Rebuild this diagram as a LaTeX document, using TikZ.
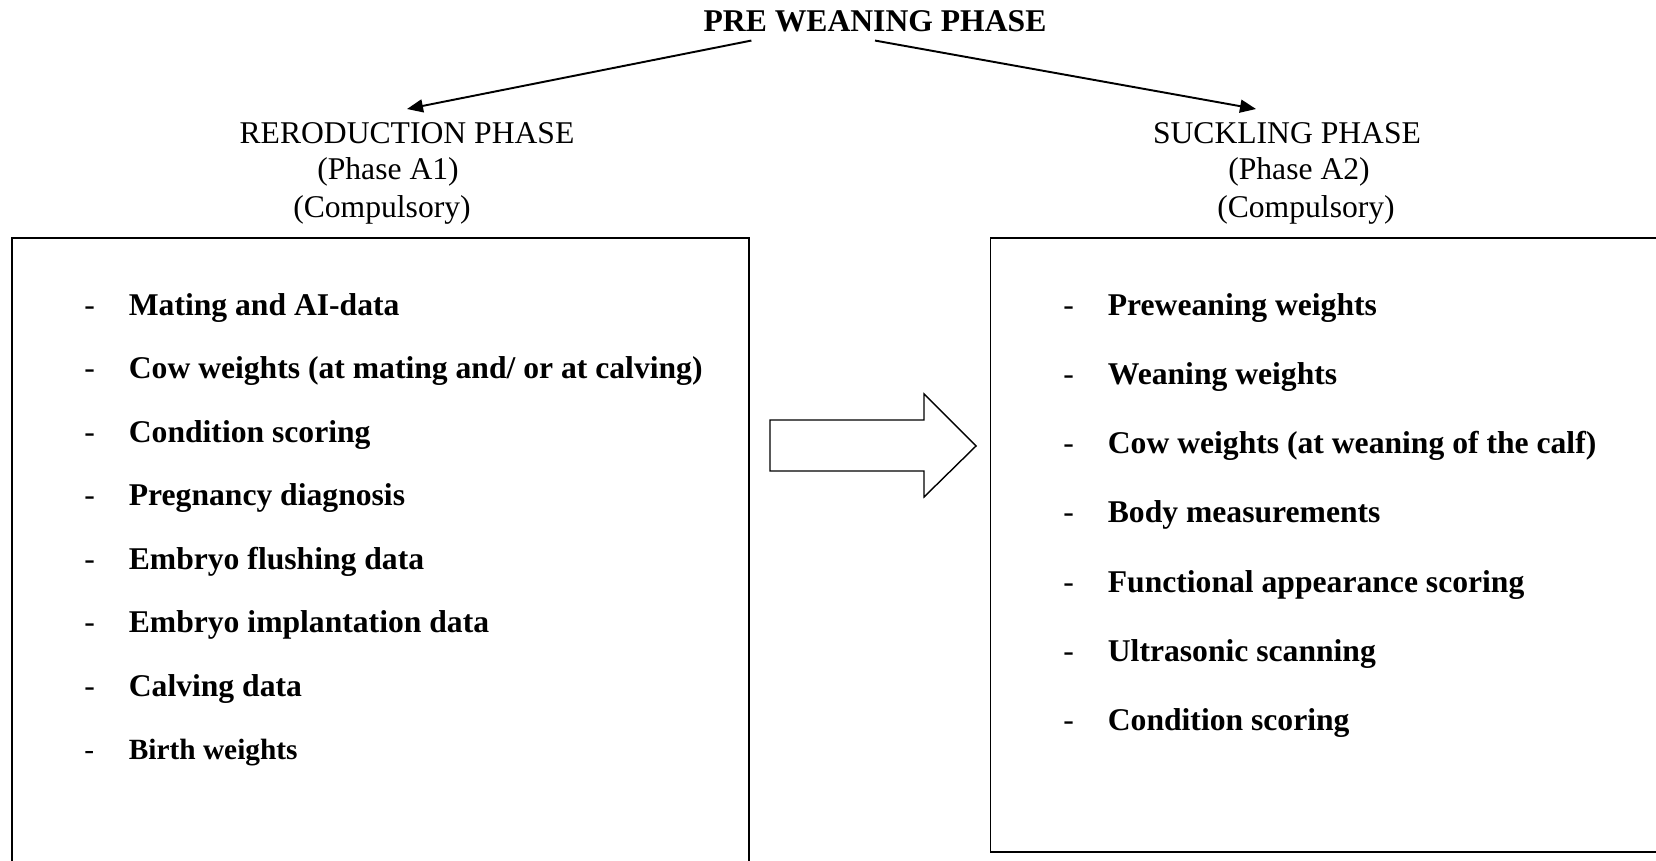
\documentclass[tikz,border=0pt]{standalone}
\usepackage{fontspec}
\setmainfont{Liberation Serif}
\usetikzlibrary{arrows.meta,positioning,calc}

\tikzset{
	heading/.style={font=\fontsize{18}{21}\selectfont\bfseries, inner sep=0pt},
	phase/.style={font=\fontsize{18}{21}\selectfont, inner sep=0pt},
	entry/.style={font=\fontsize{18}{21}\selectfont, inner sep=0pt, anchor=west, text height=0.45cm, text depth=0.13cm},
	panel/.style={draw, line width=1.1pt, inner sep=0pt},
	branch/.style={-{Triangle[length=0.32cm,width=0.26cm]}, line width=1.1pt},
}
\newcommand{\dashitem}[1]{\makebox[0.89cm][l]{-}\textbf{#1}}

\begin{document}
\begin{tikzpicture}
			\useasboundingbox (0,0) rectangle (33.12,17.2);
			\clip (0,0) rectangle (33.12,17.2);
			%
			\node[heading] (pre) at (17.50,16.78) {PRE WEANING PHASE};
			\node[phase] (repro) at (8.14,14.54) {RERODUCTION PHASE};
			\node[phase] (reproA) at (7.76,13.76) {(Phase A1)};
			\node[phase] (reproC) at (7.64,13.00) {(Compulsory)};
			\node[phase] (suck) at (25.74,14.54) {SUCKLING PHASE};
			\node[phase] (suckA) at (25.98,13.76) {(Phase A2)};
			\node[phase] (suckC) at (26.12,13.00) {(Compulsory)};
			%
			\draw[branch] ($(pre.south west)!0.14!(pre.south east)+(0,-0.17)$) -- ($(repro.north)+(0,0.26)$);
			\draw[branch] ($(pre.south)+(0,-0.17)$) -- ($(suck.north)+(-0.62,0.26)$);
			%
			\node[panel, minimum width=14.74cm, minimum height=12.94cm] (leftbox) at (7.61,5.97) {};
			\node[panel, minimum width=13.79cm, minimum height=12.28cm] (rightbox) at (26.705,6.30) {};
			%
			\node[entry] (a1) at (1.68,11.05) {\dashitem{Mating and AI-data}};
			\node[entry, below=1.269cm of a1.west, anchor=west] (a2) {\dashitem{Cow weights (at mating and/ or at calving)}};
			\node[entry, below=1.269cm of a2.west, anchor=west] (a3) {\dashitem{Condition scoring}};
			\node[entry, below=1.269cm of a3.west, anchor=west] (a4) {\dashitem{Pregnancy diagnosis}};
			\node[entry, below=1.269cm of a4.west, anchor=west] (a5) {\dashitem{Embryo flushing data}};
			\node[entry, below=1.269cm of a5.west, anchor=west] (a6) {\dashitem{Embryo implantation data}};
			\node[entry, below=1.269cm of a6.west, anchor=west] (a7) {\dashitem{Calving data}};
			\node[entry, below=1.269cm of a7.west, anchor=west, font=\fontsize{16.7}{20}\selectfont] (a8) {\dashitem{Birth weights}};
			%
			\node[entry] (b1) at (21.26,11.05) {\dashitem{Preweaning weights}};
			\node[entry, below=1.383cm of b1.west, anchor=west] (b2) {\dashitem{Weaning weights}};
			\node[entry, below=1.383cm of b2.west, anchor=west] (b3) {\dashitem{Cow weights (at weaning of the calf)}};
			\node[entry, below=1.383cm of b3.west, anchor=west] (b4) {\dashitem{Body measurements}};
			\node[entry, below=1.383cm of b4.west, anchor=west] (b5) {\dashitem{Functional appearance scoring}};
			\node[entry, below=1.383cm of b5.west, anchor=west] (b6) {\dashitem{Ultrasonic scanning}};
			\node[entry, below=1.383cm of b6.west, anchor=west] (b7) {\dashitem{Condition scoring}};
			%
			\draw[line width=0.8pt] (15.40,8.80) -- (18.48,8.80) -- (18.48,9.32) -- (19.52,8.28)
				-- (18.48,7.26) -- (18.48,7.78) -- (15.40,7.78) -- cycle;
		\end{tikzpicture}
\end{document}
